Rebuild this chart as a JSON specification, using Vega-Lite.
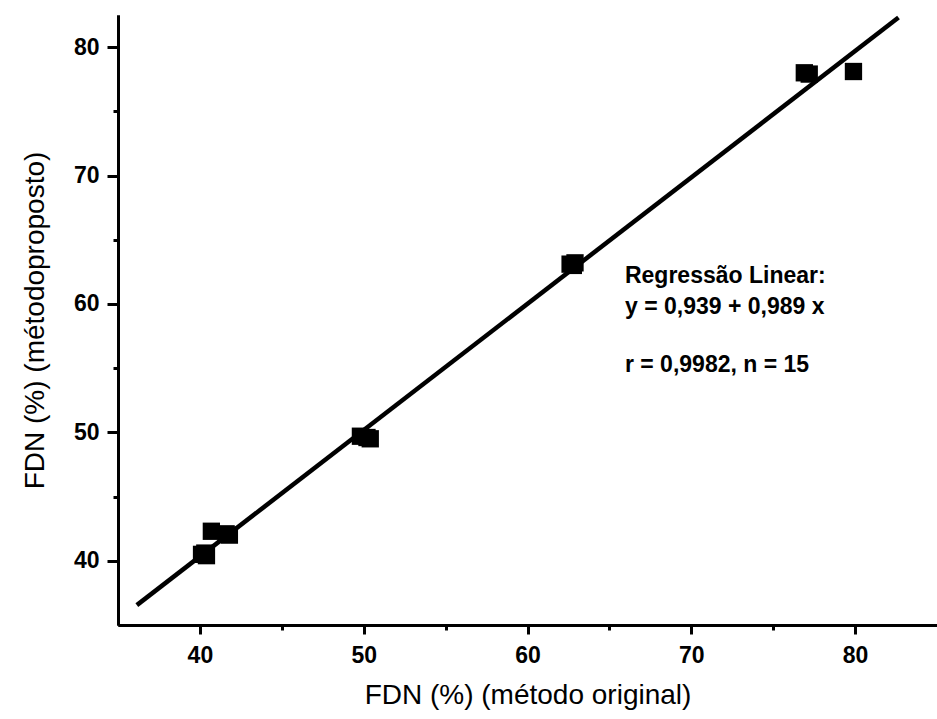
{
  "$schema": "https://vega.github.io/schema/vega-lite/v6.json",
  "autosize": "none",
  "width": 819,
  "height": 610,
  "padding": {"left": 118, "top": 15, "right": 0, "bottom": 94},
  "background": "white",
  "config": {
    "view": {"stroke": null},
    "font": "Liberation Sans",
    "axis": {"grid": false, "domainColor": "black", "tickColor": "black", "labelColor": "black", "titleColor": "black", "labelFont": "Liberation Sans", "titleFont": "Liberation Sans"}
  },
  "datasets": {
    "pts": [
      {"x": 40.1, "y": 40.5}, {"x": 40.3, "y": 40.6}, {"x": 40.4, "y": 40.4},
      {"x": 40.7, "y": 42.3}, {"x": 41.6, "y": 42.1}, {"x": 41.8, "y": 42.0},
      {"x": 49.8, "y": 49.7}, {"x": 50.2, "y": 49.6}, {"x": 50.4, "y": 49.5},
      {"x": 62.6, "y": 63.1}, {"x": 62.8, "y": 63.0}, {"x": 62.9, "y": 63.2},
      {"x": 76.9, "y": 78.0}, {"x": 77.2, "y": 77.9}, {"x": 79.9, "y": 78.1}
    ],
    "fit": [{"x": 36.15, "y": 36.55}, {"x": 82.65, "y": 82.3}],
    "notes": [
      {"x": 65.95, "y": 62.15, "t": "Regressão Linear:"},
      {"x": 65.95, "y": 59.8, "t": "y = 0,939 + 0,989  x"},
      {"x": 65.95, "y": 55.28, "t": "r = 0,9982, n = 15"}
    ],
    "minor": [{"x": 45, "y": 45}, {"x": 55, "y": 55}, {"x": 65, "y": 65}, {"x": 75, "y": 75}]
  },
  "layer": [
    {
      "data": {"name": "minor"},
      "mark": {"type": "point", "opacity": 0},
      "encoding": {
        "x": {"field": "x", "type": "quantitative", "scale": {"domain": [35, 85], "nice": false, "zero": false},
          "axis": {"orient": "bottom", "values": [45, 55, 65, 75], "labels": false, "title": null, "domainWidth": 3, "tickWidth": 3, "tickSize": 5}},
        "y": {"field": "y", "type": "quantitative", "scale": {"domain": [35, 82.5], "nice": false, "zero": false},
          "axis": {"orient": "left", "values": [45, 55, 65, 75], "labels": false, "title": null, "domainWidth": 3, "tickWidth": 3, "tickSize": 5}}
      }
    },
    {
      "data": {"name": "fit"},
      "mark": {"type": "line", "color": "black", "strokeWidth": 4.5, "clip": false},
      "encoding": {
        "x": {"field": "x", "type": "quantitative", "scale": {"domain": [35, 85], "nice": false, "zero": false},
          "axis": {"orient": "bottom", "values": [40, 50, 60, 70, 80], "domainWidth": 3, "tickWidth": 3, "tickSize": 9, "labelFontSize": 23, "labelFontWeight": "bold", "labelPadding": 10, "title": "FDN (%) (método original)", "titleFontSize": 28, "titleFontWeight": "normal", "titlePadding": 14}},
        "y": {"field": "y", "type": "quantitative", "scale": {"domain": [35, 82.5], "nice": false, "zero": false},
          "axis": {"orient": "left", "values": [40, 50, 60, 70, 80], "domainWidth": 3, "tickWidth": 3, "tickSize": 11, "labelFontSize": 23, "labelFontWeight": "bold", "labelPadding": 8, "title": "FDN (%) (métodoproposto)", "titleFontSize": 28, "titleFontWeight": "normal", "titlePadding": 24}}
      }
    },
    {
      "data": {"name": "pts"},
      "mark": {"type": "square", "color": "black", "filled": true, "opacity": 1, "size": 300},
      "encoding": {
        "x": {"field": "x", "type": "quantitative", "axis": null},
        "y": {"field": "y", "type": "quantitative", "axis": null}
      }
    },
    {
      "data": {"name": "notes"},
      "mark": {"type": "text", "align": "left", "baseline": "middle", "fontSize": 23, "fontWeight": "bold", "color": "black"},
      "encoding": {
        "x": {"field": "x", "type": "quantitative", "axis": null},
        "y": {"field": "y", "type": "quantitative", "axis": null},
        "text": {"field": "t"}
      }
    }
  ],
  "resolve": {"axis": {"x": "independent", "y": "independent"}}
}
